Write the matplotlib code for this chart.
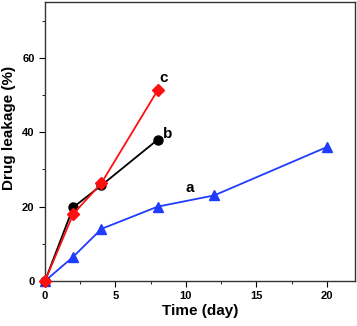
import matplotlib
matplotlib.use("Agg")
import matplotlib.pyplot as plt
from matplotlib.ticker import MultipleLocator

plt.rcParams['font.family'] = ['Liberation Sans', 'DejaVu Sans']

t_a = [0, 2, 4, 8, 12, 20]
leak_a = [0, 6.5, 14, 20, 23, 36]
t_b = [0, 2, 4, 8]
leak_b = [0, 19.8, 25.7, 38]
t_c = [0, 2, 4, 8]
leak_c = [0, 18, 26.3, 51.3]

fig = plt.figure(figsize=(3.57, 3.26), dpi=100)
ax = fig.add_axes([45/357, 1 - 281/326, 310/357, 279/326])

ax.plot(t_a, leak_a, color='#1f3cff', marker='^', markersize=7.5, lw=1.3, clip_on=False, zorder=3)
ax.plot(t_b, leak_b, color='black', marker='o', markersize=6.5, lw=1.3, clip_on=False, zorder=4)
ax.plot(t_c, leak_c, color='#ff1010', marker='D', markersize=6, lw=1.3, clip_on=False, zorder=5)

ax.text(8.1, 53.5, 'c', fontsize=11, fontweight='bold')
ax.text(8.4, 38.5, 'b', fontsize=11, fontweight='bold')
ax.text(10.0, 24.0, 'a', fontsize=11, fontweight='bold')

ax.set_xlim(0, 22)
ax.set_ylim(0, 75)
ax.xaxis.set_major_locator(MultipleLocator(5))
ax.xaxis.set_minor_locator(MultipleLocator(2.5))
ax.yaxis.set_major_locator(MultipleLocator(20))
ax.yaxis.set_minor_locator(MultipleLocator(10))
ax.tick_params(which='both', direction='out', top=False, right=False, labelsize=8)
ax.tick_params(which='major', length=4)
ax.tick_params(which='minor', length=2.5)
for lab in ax.get_xticklabels() + ax.get_yticklabels():
    lab.set_fontweight('bold')
for s in ax.spines.values():
    s.set_linewidth(1.0)
    s.set_color('#333333')

ax.set_xlabel('Time (day)', fontsize=11, fontweight='bold', labelpad=2)
ax.set_ylabel('Drug leakage (%)', fontsize=11, fontweight='bold')
ax.yaxis.set_label_coords(-0.093, 0.55)

fig.savefig('out.png', dpi=100)
